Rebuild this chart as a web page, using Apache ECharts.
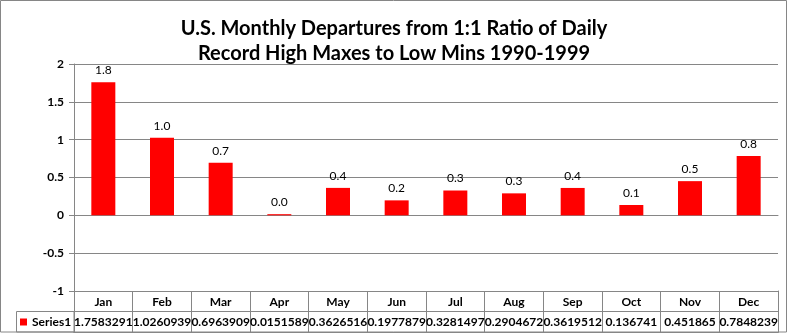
<!DOCTYPE html>
<html>
<head>
<meta charset="utf-8">
<script src="https://cdn.jsdelivr.net/npm/echarts@6/dist/echarts.min.js"></script>
<style>html,body{margin:0;padding:0;background:#fff}#c{width:788px;height:333px}</style>
</head>
<body>
<div id="c"></div>
<script>
var titleLines = ['U.S. Monthly Departures from 1:1 Ratio of Daily', 'Record High Maxes to Low Mins 1990-1999'];
var months = ['Jan','Feb','Mar','Apr','May','Jun','Jul','Aug','Sep','Oct','Nov','Dec'];
var seriesName = 'Series1';
var values = [1.7583291, 1.0260939, 0.6963909, 0.0151589, 0.3626516, 0.1977879, 0.3281497, 0.2904672, 0.3619512, 0.136741, 0.451865, 0.7848239];
var yTicks = { min: -1, max: 2, interval: 0.5 };

var FONT = 'Lato';
var GRAY = '#868686';
var chart = echarts.init(document.getElementById('c'), null, {renderer: 'canvas'});
chart.setOption({
  animation: false,
  backgroundColor: '#fff',
  textStyle: { fontFamily: FONT },
  title: {
    text: titleLines.join('\n'),
    left: 'center', top: 11,
    textStyle: { fontFamily: FONT, fontSize: 20, fontWeight: 'bold', color: '#000', lineHeight: 25 }
  },
  legend: {
    left: 20, top: 316, padding: 0,
    data: [seriesName],
    icon: 'rect', itemWidth: 7, itemHeight: 7, itemGap: 4,
    textStyle: { fontFamily: FONT, fontSize: 12, fontWeight: 'bold', color: '#000' },
    selectedMode: false
  },
  grid: [
    { left: 74, right: 10, top: 64, height: 227 },
    { left: 74, right: 10, top: 291, height: 41, show: false }
  ],
  xAxis: [
    { gridIndex: 0, type: 'category', data: months,
      axisLine: { onZero: true, lineStyle: { color: GRAY } },
      axisTick: { show: false }, axisLabel: { show: false } },
    { gridIndex: 1, type: 'category', data: values.map(String), position: 'bottom',
      axisLine: { show: true, lineStyle: { color: GRAY } },
      axisTick: { show: false },
      splitLine: { show: true, lineStyle: { color: GRAY } },
      axisLabel: { inside: true, margin: 4, interval: 0, fontFamily: FONT, fontSize: 12, fontWeight: 'bold', color: '#000' } },
    { gridIndex: 1, type: 'category', data: months, position: 'top',
      axisLine: { show: true, lineStyle: { color: GRAY } },
      axisTick: { show: false },
      axisLabel: { inside: true, margin: 5, interval: 0, fontFamily: FONT, fontSize: 12, fontWeight: 'bold', color: '#000' } }
  ],
  yAxis: [
    { gridIndex: 0, type: 'value', min: yTicks.min, max: yTicks.max, interval: yTicks.interval,
      axisLine: { show: true, lineStyle: { color: GRAY } },
      axisTick: { show: true, length: 5, lineStyle: { color: GRAY } },
      splitLine: { show: true, lineStyle: { color: GRAY } },
      axisLabel: { margin: 10, fontFamily: FONT, fontSize: 12, fontWeight: 'bold', color: '#000' } },
    { gridIndex: 1, type: 'value', min: 0, max: 2, interval: 1,
      axisLine: { show: true, lineStyle: { color: GRAY } },
      axisTick: { show: false }, axisLabel: { show: false },
      splitLine: { show: true, lineStyle: { color: GRAY } } },
    { gridIndex: 1, type: 'value', min: 0, max: 2, interval: 1, position: 'right',
      axisLine: { show: true, lineStyle: { color: GRAY } },
      axisTick: { show: false }, axisLabel: { show: false }, splitLine: { show: false } }
  ],
  series: [{
    name: seriesName, type: 'bar', xAxisIndex: 0, yAxisIndex: 0,
    data: values, barWidth: 24,
    itemStyle: { color: '#FF0000' },
    label: { show: true, position: 'top', distance: 6, fontFamily: FONT, fontSize: 12, color: '#000',
      formatter: function (p) { return p.value.toFixed(1); } }
  }],
  graphic: [
    { type: 'rect', shape: { x: 0.5, y: 0.5, width: 786, height: 331.5 }, style: { fill: 'none', stroke: GRAY, lineWidth: 1 }, silent: true },
    { type: 'rect', shape: { x: 16.5, y: 311.5, width: 57.5, height: 20.5 }, style: { fill: 'none', stroke: GRAY, lineWidth: 1 }, silent: true }
  ]
});
</script>
</body>
</html>
